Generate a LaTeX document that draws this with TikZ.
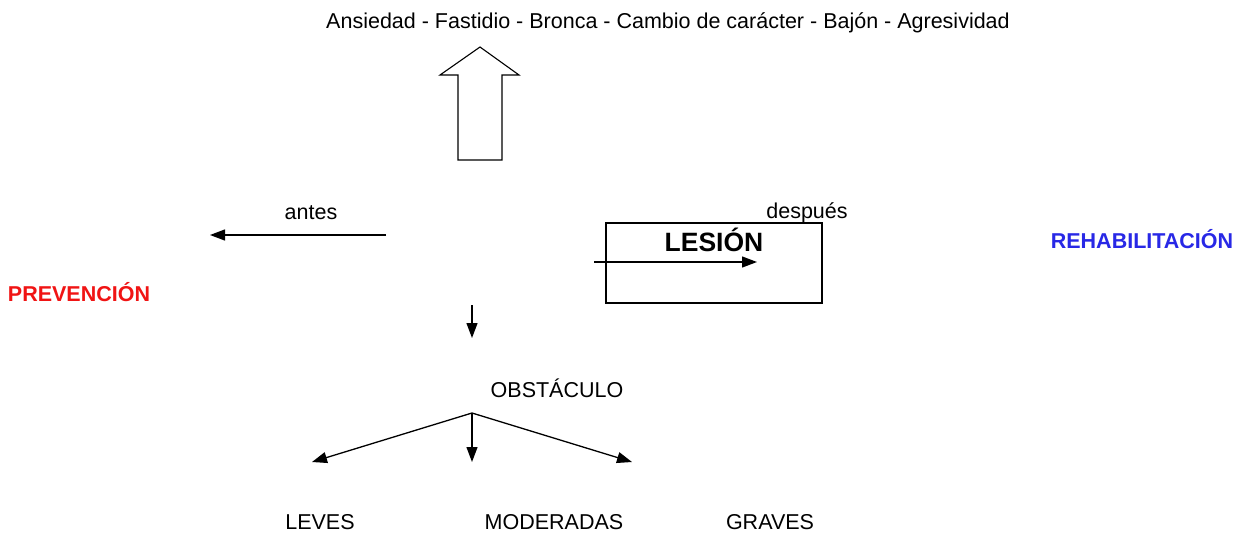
\documentclass[tikz,border=0pt]{standalone}
\usepackage{fontspec}
\setmainfont{Liberation Sans}
\usetikzlibrary{arrows.meta}
\begin{document}
\begin{tikzpicture}[x=1pt,y=-1pt,
  lbl/.style={font=\fontsize{21.5}{25}\selectfont, inner sep=0pt},
  arr/.style={line width=1.3pt, -{Triangle[length=15pt,width=11pt]}},
  every node/.style={inner sep=0pt}]
\useasboundingbox (0,0) rectangle (1244,533);
\node[lbl] (top) at (668,23) {Ansiedad - Fastidio - Bronca - Cambio de carácter - Bajón - Agresividad};
\draw[line width=1.1pt] (480,47) -- (519,75) -- (502,75) -- (502,160) -- (458,160) -- (458,75) -- (440,75) -- cycle;
\node[lbl] (antes) at (311,213) {antes};
\coordinate (a1) at (386,235);
\coordinate (a2) at (210,235);
\draw[arr] (a1) -- (a2);
\node[lbl] (despues) at (807,213) {después};
\node[draw, line width=1.2pt, minimum width=216pt, minimum height=80pt] (box) at (714,263) {};
\node[font=\fontsize{26.5}{30}\selectfont\bfseries] (lesion) at (714,240) {LESIÓN};
\coordinate (l1) at (594,262);
\coordinate (l2) at (757,262);
\draw[arr] (l1) -- (l2);
\node[lbl, font=\fontsize{21.5}{25}\selectfont\bfseries, text={rgb,255:red,40;green,40;blue,230}] (rehab) at (1142,239) {REHABILITACIÓN};
\node[lbl, font=\fontsize{21.5}{25}\selectfont\bfseries, text={rgb,255:red,240;green,20;blue,20}] (prev) at (79,292) {PREVENCIÓN};
\coordinate (d1) at (472,305);
\coordinate (d2) at (472,338);
\draw[arr] (d1) -- (d2);
\node[lbl] (obst) at (557,388) {OBSTÁCULO};
\coordinate (o) at (472,413);
\coordinate (e1) at (312,462);
\coordinate (e2) at (472,462);
\coordinate (e3) at (632,462);
\draw[arr] (o) -- (e1);
\draw[arr] (o) -- (e2);
\draw[arr] (o) -- (e3);
\node[lbl] (leves) at (320,522) {LEVES};
\node[lbl] (mod) at (554,522) {MODERADAS};
\node[lbl] (graves) at (770,522) {GRAVES};
\end{tikzpicture}
\end{document}
